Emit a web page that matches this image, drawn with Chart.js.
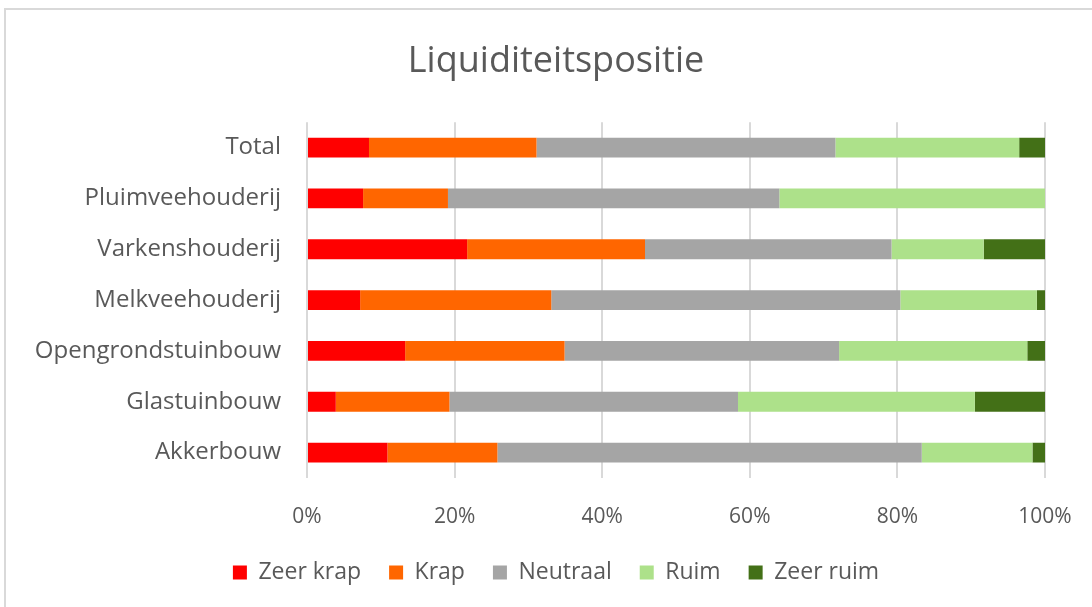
<!DOCTYPE html>
<html>
<head>
<meta charset="utf-8">
<script src="https://cdn.jsdelivr.net/npm/chart.js@4.4.1/dist/chart.umd.min.js"></script>
<style>
  html, body { margin: 0; padding: 0; background: #fff; overflow: hidden; }
  #frame {
    position: absolute; left: 4px; top: 8px; width: 1100px; height: 620px;
    border: 2px solid #d9d9d9; box-sizing: border-box;
  }
  #wrap { position: absolute; left: 0; top: 0; width: 1105px; height: 607px; }
</style>
</head>
<body>
<div id="frame"></div>
<div id="wrap"><canvas id="liqChart"></canvas></div>
<script>
/* ===== DATA ===== */
const sectors = ["Total", "Pluimveehouderij", "Varkenshouderij", "Melkveehouderij",
                 "Opengrondstuinbouw", "Glastuinbouw", "Akkerbouw"];

const zeerKrap = [8.4, 7.6, 21.7, 7.2, 13.3, 3.9, 10.9];
const krap     = [22.7, 11.5, 24.1, 25.9, 21.6, 15.4, 14.9];
const neutraal = [40.5, 44.9, 33.4, 47.3, 37.2, 39.1, 57.5];
const ruim     = [24.9, 36.0, 12.5, 18.5, 25.5, 32.1, 15.0];
const zeerRuim = [3.5, 0, 8.3, 1.1, 2.4, 9.5, 1.7];

const textColor = "#595959";
const fontName = "'Open Sans', Lato, sans-serif";

/* ===== CHART ===== */
new Chart(document.getElementById("liqChart"), {
    type: "bar",
    data: {
        labels: sectors,
        datasets: [
            { label: "Zeer krap", data: zeerKrap, backgroundColor: "#ff0000" },
            { label: "Krap", data: krap, backgroundColor: "#ff6600" },
            { label: "Neutraal", data: neutraal, backgroundColor: "#a5a5a5" },
            { label: "Ruim", data: ruim, backgroundColor: "#ade18a" },
            { label: "Zeer ruim", data: zeerRuim, backgroundColor: "#437017" }
        ]
    },
    options: {
        indexAxis: "y",
        responsive: true,
        maintainAspectRatio: false,
        animation: false,
        datasets: { bar: { barPercentage: 0.39, categoryPercentage: 1.0 } },
        layout: { padding: { left: 7, right: 0, top: 0, bottom: 13 } },
        scales: {
            x: {
                stacked: true,
                min: 0,
                max: 100,
                ticks: {
                    stepSize: 20,
                    padding: 26,
                    color: textColor,
                    font: { family: fontName, size: 21 },
                    callback: v => v + "%"
                },
                grid: { color: "#d9d9d9", lineWidth: 2, drawTicks: false },
                border: { display: false },
                afterFit: scale => {
                    scale.height = 55;
                    scale.paddingRight = 60;
                }
            },
            y: {
                stacked: true,
                ticks: {
                    padding: 26,
                    color: textColor,
                    font: { family: fontName, size: 24 }
                },
                grid: { display: false, drawTicks: false },
                border: { display: false },
                afterFit: scale => { scale.width = 300; }
            }
        },
        plugins: {
            title: {
                display: true,
                text: "Liquiditeitspositie",
                color: textColor,
                font: { family: fontName, size: 36, weight: "normal" },
                padding: { top: 40, bottom: 39 }
            },
            legend: {
                position: "bottom",
                labels: {
                    boxWidth: 14,
                    boxHeight: 14,
                    padding: 28,
                    color: textColor,
                    font: { family: fontName, size: 23 }
                }
            },
            tooltip: { enabled: false }
        }
    }
});
</script>
</body>
</html>
